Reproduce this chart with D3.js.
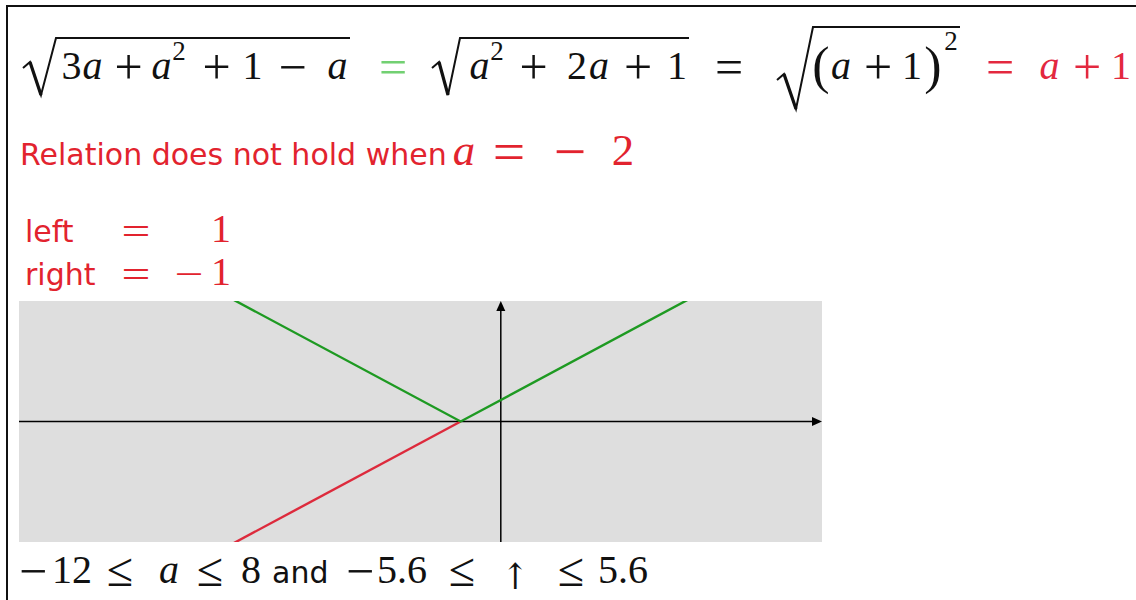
<!DOCTYPE html>
<html><head><meta charset="utf-8">
<script src="https://cdn.jsdelivr.net/npm/d3@7"></script>
<style>body{margin:0;background:#fff}svg{display:block}</style>
</head><body>
<svg id="c" width="1136" height="600"></svg>
<script>
// ---- data ----
const aDomain = [-12, 8];          // horizontal range of a
const yDomain = [-5.6, 5.6];       // vertical range
// left side  sqrt(3a + a^2 + 1 - a) = |a+1|  (green)
const leftA = [-12, -1, 8];
const leftY = [11, 0, 9];
// right side a + 1 where it differs (red)
const rightA = [-12, -1];
const rightY = [-11, 0];
// texts
const relationText = "Relation does not hold when";
const leftLabel = "left";
const rightLabel = "right";
const leftValue = ["1"];
const rightValue = ["−", "1"];
const failA = ["−", "2"];
const rangeA = ["−", "12", "8"];
const rangeY = ["−", "5.6", "5.6"];
const andText = "and";

// ---- drawing ----
const svg = d3.select("#c");
const RED = "#e2232e", GREEN_EQ = "#72d072", RED2 = "#e3283f";
const SERIF = "'Liberation Serif','Times New Roman',serif";
const SANS = "'DejaVu Sans',Verdana,sans-serif";

// frame
svg.append("rect").attr("x", 7).attr("y", 6).attr("width", 1140).attr("height", 610)
  .attr("fill", "none").attr("stroke", "#111").attr("stroke-width", 2);

function tok(txt, cx, by, kind, color, k) {
  k = k || 1;
  const t = svg.append("text").text(txt).attr("fill", color || "#111")
    .attr("text-anchor", "middle").style("font-family", SERIF);
  let size = 40, y = by, sx = 1;
  if (kind === "var") t.style("font-style", "italic");
  if (kind === "op") { size = 50; y = by + 5 * k; }
  if (kind === "opn") { size = 38; y = by + 2; sx = 1.35; }
  if (kind === "rel") { size = 48; y = by + 3; }
  if (kind === "sup") { size = 27; }
  if (kind === "paren") { size = 52; y = by + 4; }
  if (kind === "arrow") { size = 36; sx = 0.9; t.style("font-family", "'DejaVu Serif','DejaVu Sans',serif"); }
  t.attr("transform", `translate(${cx},${y}) scale(${sx},1)`).style("font-size", (size * k) + "px");
  return t;
}
function numStart(txt, x, by, color) {
  return svg.append("text").text(txt).attr("x", x).attr("y", by).attr("fill", color || "#111")
    .style("font-family", SERIF).style("font-size", "40px");
}
function radical(pts, thick) {
  const l = d3.line();
  svg.append("path").attr("d", l(pts)).attr("fill", "none").attr("stroke", "#111")
    .attr("stroke-width", 2).attr("stroke-linejoin", "miter");
  svg.append("path").attr("d", l([pts[1], pts[2]])).attr("stroke", "#111").attr("stroke-width", thick);
}

// line 1
const B1 = 79;
radical([[23, 68], [30, 62], [41, 95], [56, 38], [350, 38]], 3.2);
radical([[432, 68], [439, 62], [448, 95], [460, 38], [689, 38]], 3.2);
radical([[777, 80], [784, 74], [796, 109], [813, 27], [960, 27]], 3.2);
const line1 = [
  ["3", 71.5, "num"], ["a", 92.5, "var"], ["+", 128.5, "op"], ["a", 161.5, "var"], ["2", 179, "sup"],
  ["+", 216.5, "op"], ["1", 252.5, "num"], ["−", 292.5, "op"], ["a", 337.5, "var"],
  ["=", 393, "op", GREEN_EQ],
  ["a", 479.5, "var"], ["2", 497, "sup"], ["+", 533.5, "op"], ["2", 577, "num"], ["a", 599, "var"],
  ["+", 638, "op"], ["1", 677, "num"],
  ["=", 729, "op"],
  ["(", 821, "paren"], ["a", 841, "var"], ["+", 878, "op"], ["1", 912, "num"], [")", 933, "paren"], ["2", 951, "sup", null, 50],
  ["=", 1000, "op", RED2], ["a", 1049.5, "var", RED2], ["+", 1087, "op", RED2], ["1", 1121, "num", RED2]
];
line1.forEach(d => {
  const by = d[2] === "sup" ? (d[4] || 60) : B1;
  tok(d[0], d[1], by, d[2], d[3]);
});

// line 2
svg.append("text").text(relationText).attr("x", 20).attr("y", 165).attr("fill", RED)
  .style("font-family", SANS).style("font-size", "30px");
tok("a", 464, 165, "var", RED, 1.12);
tok("=", 509, 165, "op", RED, 1.15);
tok(failA[0], 570, 165, "op", RED, 1.15);
tok(failA[1], 623, 165, "num", RED, 1.12);

// left / right
svg.append("text").text(leftLabel).attr("x", 25).attr("y", 242).attr("fill", RED)
  .style("font-family", SANS).style("font-size", "30px");
tok("=", 136, 242, "opn", RED);
tok(leftValue[0], 221, 242, "num", RED);
svg.append("text").text(rightLabel).attr("x", 25).attr("y", 285).attr("fill", RED)
  .style("font-family", SANS).style("font-size", "30px");
tok("=", 136, 285, "opn", RED);
tok(rightValue[0], 189, 285, "opn", RED);
tok(rightValue[1], 221, 285, "num", RED);

// plot
const x = d3.scaleLinear().domain(aDomain).range([19, 822]);
const y = d3.scaleLinear().domain(yDomain).range([542, 301]);
svg.append("defs").append("clipPath").attr("id", "clip").append("rect")
  .attr("x", x(aDomain[0])).attr("y", y(yDomain[1]))
  .attr("width", x(aDomain[1]) - x(aDomain[0])).attr("height", y(yDomain[0]) - y(yDomain[1]));
svg.append("rect").attr("x", x(aDomain[0])).attr("y", y(yDomain[1]))
  .attr("width", x(aDomain[1]) - x(aDomain[0])).attr("height", y(yDomain[0]) - y(yDomain[1]))
  .attr("fill", "#dedede");

// axes
const ax = svg.append("g").attr("stroke", "#000").attr("stroke-width", 1.5);
ax.append("line").attr("x1", x(aDomain[0])).attr("x2", x(aDomain[1]) - 6).attr("y1", y(0)).attr("y2", y(0));
ax.append("line").attr("x1", x(0)).attr("x2", x(0)).attr("y1", y(yDomain[0])).attr("y2", y(yDomain[1]) + 6);
svg.append("path").attr("fill", "#000")
  .attr("d", `M${x(aDomain[1])},${y(0)} L${x(aDomain[1]) - 10},${y(0) - 4.5} L${x(aDomain[1]) - 10},${y(0) + 4.5}Z`);
svg.append("path").attr("fill", "#000")
  .attr("d", `M${x(0)},${y(yDomain[1])} L${x(0) - 4.5},${y(yDomain[1]) + 10} L${x(0) + 4.5},${y(yDomain[1]) + 10}Z`);

const line = d3.line().x(d => x(d[0])).y(d => y(d[1]));
const g = svg.append("g").attr("clip-path", "url(#clip)");
g.append("path").attr("d", line(d3.zip(rightA, rightY))).attr("fill", "none")
  .attr("stroke", "#dd2a3c").attr("stroke-width", 2.4);
g.append("path").attr("d", line(d3.zip(leftA, leftY))).attr("fill", "none")
  .attr("stroke", "#1e9a22").attr("stroke-width", 2.4);

// bottom line
const B3 = 583;
tok(rangeA[0], 33, B3, "op");
numStart(rangeA[1], 52, B3);
tok("≤", 120, B3, "rel");
tok("a", 169, B3, "var");
tok("≤", 210, B3, "rel");
tok(rangeA[2], 251, B3, "num");
svg.append("text").text(andText).attr("x", 272).attr("y", B3).attr("fill", "#111")
  .style("font-family", SANS).style("font-size", "30px");
tok(rangeY[0], 360, B3, "op");
numStart(rangeY[1], 377, B3);
tok("≤", 462, B3, "rel");
tok("↑", 515, B3 + 6, "arrow");
tok("≤", 571, B3, "rel");
numStart(rangeY[2], 598, B3);
</script>
</body></html>
